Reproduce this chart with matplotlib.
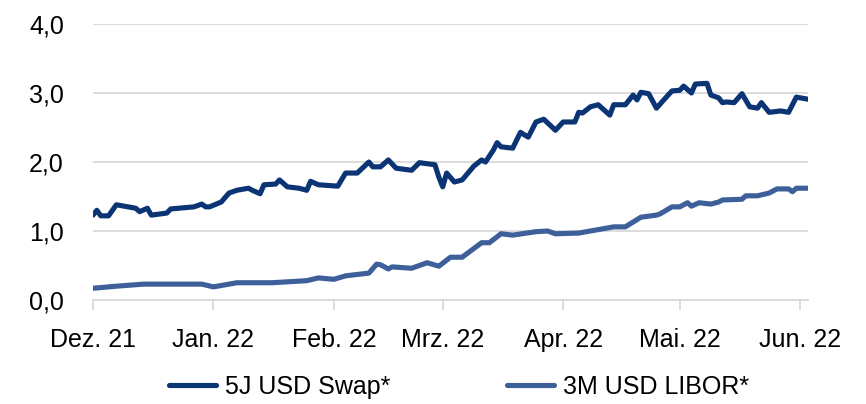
import matplotlib
matplotlib.use("Agg")
import matplotlib.pyplot as plt
import numpy as np
import pandas as pd

# 5J USD Swap
swap_dates = ["2021-12-01", "2021-12-02", "2021-12-03", "2021-12-05", "2021-12-07", "2021-12-09",
              "2021-12-12", "2021-12-13", "2021-12-15", "2021-12-16", "2021-12-20", "2021-12-21",
              "2021-12-27", "2021-12-29", "2021-12-30", "2021-12-31", "2022-01-03", "2022-01-05",
              "2022-01-07", "2022-01-10", "2022-01-11", "2022-01-13", "2022-01-14", "2022-01-17",
              "2022-01-18", "2022-01-20", "2022-01-23", "2022-01-25", "2022-01-26", "2022-01-28",
              "2022-02-02", "2022-02-04", "2022-02-07", "2022-02-10", "2022-02-11", "2022-02-13",
              "2022-02-15", "2022-02-17", "2022-02-21", "2022-02-23", "2022-02-27", "2022-02-28",
              "2022-03-01", "2022-03-02", "2022-03-04", "2022-03-06", "2022-03-09", "2022-03-11",
              "2022-03-12", "2022-03-14", "2022-03-15", "2022-03-16", "2022-03-19", "2022-03-21",
              "2022-03-23", "2022-03-25", "2022-03-27", "2022-03-30", "2022-04-01", "2022-04-04",
              "2022-04-05", "2022-04-06", "2022-04-08", "2022-04-10", "2022-04-13", "2022-04-14",
              "2022-04-17", "2022-04-19", "2022-04-20", "2022-04-21", "2022-04-23", "2022-04-25",
              "2022-04-28", "2022-04-29", "2022-05-01", "2022-05-02", "2022-05-04", "2022-05-05",
              "2022-05-08", "2022-05-09", "2022-05-11", "2022-05-12", "2022-05-13", "2022-05-15",
              "2022-05-17", "2022-05-19", "2022-05-21", "2022-05-22", "2022-05-24", "2022-05-27",
              "2022-05-29", "2022-05-31", "2022-06-03"]
swap_values = [1.23, 1.30, 1.22, 1.22, 1.38, 1.36,
               1.33, 1.28, 1.33, 1.23, 1.26, 1.32,
               1.35, 1.39, 1.35, 1.35, 1.42, 1.55,
               1.59, 1.62, 1.59, 1.54, 1.67, 1.68,
               1.74, 1.64, 1.62, 1.59, 1.72, 1.67,
               1.65, 1.84, 1.84, 2.00, 1.93, 1.93,
               2.03, 1.91, 1.88, 1.99, 1.96, 1.78,
               1.64, 1.84, 1.71, 1.74, 1.94, 2.03,
               2.00, 2.17, 2.28, 2.22, 2.20, 2.43,
               2.36, 2.58, 2.62, 2.46, 2.58, 2.58,
               2.72, 2.71, 2.80, 2.83, 2.68, 2.83,
               2.83, 2.97, 2.90, 3.01, 2.99, 2.78,
               2.97, 3.03, 3.04, 3.10, 3.00, 3.13,
               3.14, 2.97, 2.93, 2.86, 2.87, 2.86,
               2.99, 2.80, 2.78, 2.86, 2.72, 2.74,
               2.72, 2.94, 2.91]

# 3M USD LIBOR
libor_dates = ["2021-12-01", "2021-12-07", "2021-12-14", "2021-12-29", "2022-01-01", "2022-01-07",
               "2022-01-16", "2022-01-25", "2022-01-28", "2022-02-01", "2022-02-04", "2022-02-10",
               "2022-02-12", "2022-02-13", "2022-02-15", "2022-02-16", "2022-02-21", "2022-02-25",
               "2022-02-28", "2022-03-03", "2022-03-06", "2022-03-11", "2022-03-13", "2022-03-16",
               "2022-03-19", "2022-03-25", "2022-03-28", "2022-03-30", "2022-04-05", "2022-04-09",
               "2022-04-14", "2022-04-17", "2022-04-21", "2022-04-25", "2022-04-26", "2022-04-29",
               "2022-05-01", "2022-05-03", "2022-05-04", "2022-05-06", "2022-05-09", "2022-05-11",
               "2022-05-12", "2022-05-17", "2022-05-18", "2022-05-21", "2022-05-24", "2022-05-26",
               "2022-05-29", "2022-05-30", "2022-05-31", "2022-06-03"]
libor_values = [0.17, 0.20, 0.23, 0.23, 0.19, 0.25,
                0.25, 0.28, 0.32, 0.30, 0.35, 0.39,
                0.52, 0.51, 0.45, 0.48, 0.46, 0.54,
                0.49, 0.62, 0.62, 0.83, 0.83, 0.96,
                0.94, 0.99, 1.00, 0.96, 0.97, 1.01,
                1.06, 1.06, 1.20, 1.23, 1.25, 1.35,
                1.35, 1.41, 1.36, 1.41, 1.39, 1.42,
                1.45, 1.46, 1.51, 1.51, 1.55, 1.61,
                1.61, 1.57, 1.62, 1.62]

month_ticks = ["2021-12-01", "2022-01-01", "2022-02-01", "2022-03-01",
               "2022-04-01", "2022-05-01", "2022-06-01"]
month_labels = ["Dez. 21", "Jan. 22", "Feb. 22", "Mrz. 22", "Apr. 22", "Mai. 22", "Jun. 22"]
y_ticks = [0, 1, 2, 3, 4]

plt.rcParams["font.family"] = ["Liberation Sans", "DejaVu Sans"]

fig = plt.figure(figsize=(8.66, 4.04), dpi=100)
ax = fig.add_axes([93 / 866, 104 / 404, 715 / 866, 276 / 404])

ax.plot(pd.to_datetime(swap_dates), swap_values, color="#0b3475", lw=3.7,
        solid_joinstyle="round", solid_capstyle="round", label="5J USD Swap*", zorder=3)
ax.plot(pd.to_datetime(libor_dates), libor_values, color="#3d5f9a", lw=3.7,
        solid_joinstyle="round", solid_capstyle="round", label="3M USD LIBOR*", zorder=3)

ax.set_xlim(pd.Timestamp("2021-12-01"), pd.Timestamp("2022-06-03"))
ax.set_ylim(0, 4)
ax.set_xticks(pd.to_datetime(month_ticks))
ax.set_xticklabels(month_labels)
ax.set_yticks(y_ticks)
ax.set_yticklabels([f"{v:.1f}".replace(".", ",") for v in y_ticks])

ax.grid(axis="y", color="#d9d9d9", lw=1.3)
ax.set_axisbelow(True)
for s in ["top", "right", "left"]:
    ax.spines[s].set_visible(False)
ax.spines["bottom"].set_color("#d9d9d9")
ax.spines["bottom"].set_linewidth(1.3)

ax.tick_params(axis="x", length=7.2, width=1.3, color="#d9d9d9", direction="out",
               labelsize=18, pad=13, labelcolor="#000000")
ax.tick_params(axis="y", length=0, labelsize=18, pad=21, labelcolor="#000000")

fig.legend(loc="center", bbox_to_anchor=(0.53, 17 / 404), ncol=2, frameon=False,
           fontsize=18, handlelength=1.9, columnspacing=4.65, handletextpad=0.35,
           borderaxespad=0, borderpad=0)

fig.savefig("out.png", dpi=100)
